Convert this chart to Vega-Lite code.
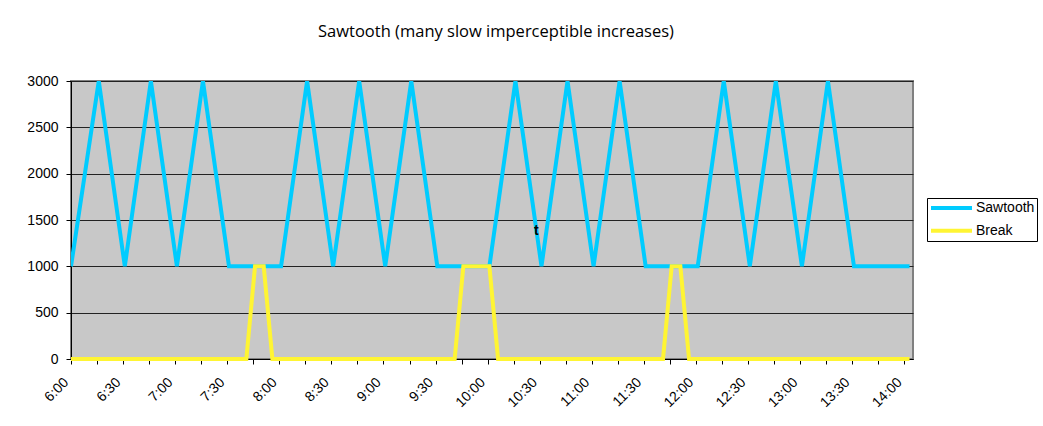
{
  "$schema": "https://vega.github.io/schema/vega-lite/v6.json",
  "width": 842,
  "height": 278,
  "autosize": "none",
  "padding": {"left": 71, "top": 81, "right": 130, "bottom": 67},
  "background": "white",
  "title": {
    "text": "Sawtooth (many slow imperceptible increases)",
    "font": "Open Sans",
    "fontSize": 16.5,
    "fontWeight": "normal",
    "color": "#000000",
    "anchor": "middle",
    "offset": 21,
    "baseline": "alphabetic",
    "dx": 4
  },
  "datasets": {
    "lines": [
      {"time": "2000-01-01T06:00:00", "value": 1000, "series": "Sawtooth"},
      {"time": "2000-01-01T06:16:00", "value": 3000, "series": "Sawtooth"},
      {"time": "2000-01-01T06:31:00", "value": 1000, "series": "Sawtooth"},
      {"time": "2000-01-01T06:46:00", "value": 3000, "series": "Sawtooth"},
      {"time": "2000-01-01T07:01:00", "value": 1000, "series": "Sawtooth"},
      {"time": "2000-01-01T07:16:00", "value": 3000, "series": "Sawtooth"},
      {"time": "2000-01-01T07:31:00", "value": 1000, "series": "Sawtooth"},
      {"time": "2000-01-01T08:01:00", "value": 1000, "series": "Sawtooth"},
      {"time": "2000-01-01T08:16:00", "value": 3000, "series": "Sawtooth"},
      {"time": "2000-01-01T08:31:00", "value": 1000, "series": "Sawtooth"},
      {"time": "2000-01-01T08:46:00", "value": 3000, "series": "Sawtooth"},
      {"time": "2000-01-01T09:01:00", "value": 1000, "series": "Sawtooth"},
      {"time": "2000-01-01T09:16:00", "value": 3000, "series": "Sawtooth"},
      {"time": "2000-01-01T09:31:00", "value": 1000, "series": "Sawtooth"},
      {"time": "2000-01-01T10:01:00", "value": 1000, "series": "Sawtooth"},
      {"time": "2000-01-01T10:16:00", "value": 3000, "series": "Sawtooth"},
      {"time": "2000-01-01T10:31:00", "value": 1000, "series": "Sawtooth"},
      {"time": "2000-01-01T10:46:00", "value": 3000, "series": "Sawtooth"},
      {"time": "2000-01-01T11:01:00", "value": 1000, "series": "Sawtooth"},
      {"time": "2000-01-01T11:16:00", "value": 3000, "series": "Sawtooth"},
      {"time": "2000-01-01T11:31:00", "value": 1000, "series": "Sawtooth"},
      {"time": "2000-01-01T12:01:00", "value": 1000, "series": "Sawtooth"},
      {"time": "2000-01-01T12:16:00", "value": 3000, "series": "Sawtooth"},
      {"time": "2000-01-01T12:31:00", "value": 1000, "series": "Sawtooth"},
      {"time": "2000-01-01T12:46:00", "value": 3000, "series": "Sawtooth"},
      {"time": "2000-01-01T13:01:00", "value": 1000, "series": "Sawtooth"},
      {"time": "2000-01-01T13:16:00", "value": 3000, "series": "Sawtooth"},
      {"time": "2000-01-01T13:31:00", "value": 1000, "series": "Sawtooth"},
      {"time": "2000-01-01T14:03:00", "value": 1000, "series": "Sawtooth"},
      {"time": "2000-01-01T06:00:00", "value": 0, "series": "Break"},
      {"time": "2000-01-01T07:41:00", "value": 0, "series": "Break"},
      {"time": "2000-01-01T07:46:00", "value": 1000, "series": "Break"},
      {"time": "2000-01-01T07:51:00", "value": 1000, "series": "Break"},
      {"time": "2000-01-01T07:56:00", "value": 0, "series": "Break"},
      {"time": "2000-01-01T09:41:00", "value": 0, "series": "Break"},
      {"time": "2000-01-01T09:46:00", "value": 1000, "series": "Break"},
      {"time": "2000-01-01T10:01:00", "value": 1000, "series": "Break"},
      {"time": "2000-01-01T10:06:00", "value": 0, "series": "Break"},
      {"time": "2000-01-01T11:41:00", "value": 0, "series": "Break"},
      {"time": "2000-01-01T11:46:00", "value": 1000, "series": "Break"},
      {"time": "2000-01-01T11:51:00", "value": 1000, "series": "Break"},
      {"time": "2000-01-01T11:56:00", "value": 0, "series": "Break"},
      {"time": "2000-01-01T14:03:00", "value": 0, "series": "Break"}
    ],
    "notes": [
      {"time": "2000-01-01T10:28:00", "value": 1380, "text": "t"}
    ]
  },
  "encoding": {
    "x": {
      "field": "time",
      "type": "temporal",
      "scale": {
        "domain": [
          {"year": 2000, "month": 1, "date": 1, "hours": 6, "minutes": 0},
          {"year": 2000, "month": 1, "date": 1, "hours": 14, "minutes": 5}
        ],
        "nice": false
      },
      "axis": {
        "title": null,
        "format": "%-H:%M",
        "values": [
          {"year": 2000, "month": 1, "date": 1, "hours": 6, "minutes": 0},
          {"year": 2000, "month": 1, "date": 1, "hours": 6, "minutes": 15},
          {"year": 2000, "month": 1, "date": 1, "hours": 6, "minutes": 30},
          {"year": 2000, "month": 1, "date": 1, "hours": 6, "minutes": 45},
          {"year": 2000, "month": 1, "date": 1, "hours": 7, "minutes": 0},
          {"year": 2000, "month": 1, "date": 1, "hours": 7, "minutes": 15},
          {"year": 2000, "month": 1, "date": 1, "hours": 7, "minutes": 30},
          {"year": 2000, "month": 1, "date": 1, "hours": 7, "minutes": 45},
          {"year": 2000, "month": 1, "date": 1, "hours": 8, "minutes": 0},
          {"year": 2000, "month": 1, "date": 1, "hours": 8, "minutes": 15},
          {"year": 2000, "month": 1, "date": 1, "hours": 8, "minutes": 30},
          {"year": 2000, "month": 1, "date": 1, "hours": 8, "minutes": 45},
          {"year": 2000, "month": 1, "date": 1, "hours": 9, "minutes": 0},
          {"year": 2000, "month": 1, "date": 1, "hours": 9, "minutes": 15},
          {"year": 2000, "month": 1, "date": 1, "hours": 9, "minutes": 30},
          {"year": 2000, "month": 1, "date": 1, "hours": 9, "minutes": 45},
          {"year": 2000, "month": 1, "date": 1, "hours": 10, "minutes": 0},
          {"year": 2000, "month": 1, "date": 1, "hours": 10, "minutes": 15},
          {"year": 2000, "month": 1, "date": 1, "hours": 10, "minutes": 30},
          {"year": 2000, "month": 1, "date": 1, "hours": 10, "minutes": 45},
          {"year": 2000, "month": 1, "date": 1, "hours": 11, "minutes": 0},
          {"year": 2000, "month": 1, "date": 1, "hours": 11, "minutes": 15},
          {"year": 2000, "month": 1, "date": 1, "hours": 11, "minutes": 30},
          {"year": 2000, "month": 1, "date": 1, "hours": 11, "minutes": 45},
          {"year": 2000, "month": 1, "date": 1, "hours": 12, "minutes": 0},
          {"year": 2000, "month": 1, "date": 1, "hours": 12, "minutes": 15},
          {"year": 2000, "month": 1, "date": 1, "hours": 12, "minutes": 30},
          {"year": 2000, "month": 1, "date": 1, "hours": 12, "minutes": 45},
          {"year": 2000, "month": 1, "date": 1, "hours": 13, "minutes": 0},
          {"year": 2000, "month": 1, "date": 1, "hours": 13, "minutes": 15},
          {"year": 2000, "month": 1, "date": 1, "hours": 13, "minutes": 30},
          {"year": 2000, "month": 1, "date": 1, "hours": 13, "minutes": 45},
          {"year": 2000, "month": 1, "date": 1, "hours": 14, "minutes": 0}
        ],
        "labelExpr": "minutes(datum.value) % 30 === 0 ? datum.label : ''",
        "labelAngle": -45,
        "labelAlign": "right",
        "labelBaseline": "middle",
        "labelPadding": 16,
        "labelOffset": -5,
        "labelOverlap": false,
        "labelFlush": false,
        "tickSize": 5,
        "grid": false,
        "domainColor": "#000000",
        "tickColor": "#000000",
        "labelColor": "#000000",
        "labelFont": "Liberation Sans",
        "labelFontSize": 14
      }
    },
    "y": {
      "field": "value",
      "type": "quantitative",
      "scale": {"domain": [0, 3000], "nice": false},
      "axis": {
        "title": null,
        "format": "d",
        "values": [0, 500, 1000, 1500, 2000, 2500, 3000],
        "grid": true,
        "gridColor": "#222222",
        "gridWidth": 1,
        "tickSize": 5,
        "labelPadding": 8,
        "domainColor": "#000000",
        "tickColor": "#000000",
        "labelColor": "#000000",
        "labelFont": "Liberation Sans",
        "labelFontSize": 14
      }
    }
  },
  "layer": [
    {
      "data": {"name": "lines"},
      "transform": [{"filter": "datum.series === 'Sawtooth'"}],
      "mark": {"type": "line", "strokeWidth": 4, "clip": true, "strokeJoin": "miter", "strokeCap": "butt"},
      "encoding": {
        "color": {
          "field": "series",
          "type": "nominal",
          "scale": {"domain": ["Sawtooth", "Break"], "range": ["#00CCFF", "#FFF533"]},
          "legend": {
            "title": null,
            "orient": "none",
            "legendX": 856,
            "legendY": 117,
            "symbolType": "stroke",
            "symbolSize": 1681,
            "symbolStrokeWidth": 4,
            "clipHeight": 16,
            "labelFont": "Liberation Sans",
            "labelFontSize": 14,
            "labelColor": "#000000",
            "labelOffset": 2,
            "strokeColor": "#000000",
            "fillColor": "#ffffff",
            "padding": 2,
            "rowPadding": 6.7
          }
        }
      }
    },
    {
      "data": {"name": "lines"},
      "transform": [{"filter": "datum.series === 'Break'"}],
      "mark": {"type": "line", "strokeWidth": 4, "strokeJoin": "miter", "strokeCap": "butt"},
      "encoding": {
        "color": {"field": "series", "type": "nominal"}
      }
    },
    {
      "data": {"name": "notes"},
      "mark": {"type": "text", "font": "Liberation Sans", "fontSize": 14, "fontWeight": "bold", "color": "#000000"},
      "encoding": {
        "text": {"field": "text", "type": "nominal"}
      }
    }
  ],
  "config": {
    "view": {"fill": "#C8C8C8", "stroke": "#808080", "strokeWidth": 2}
  }
}
